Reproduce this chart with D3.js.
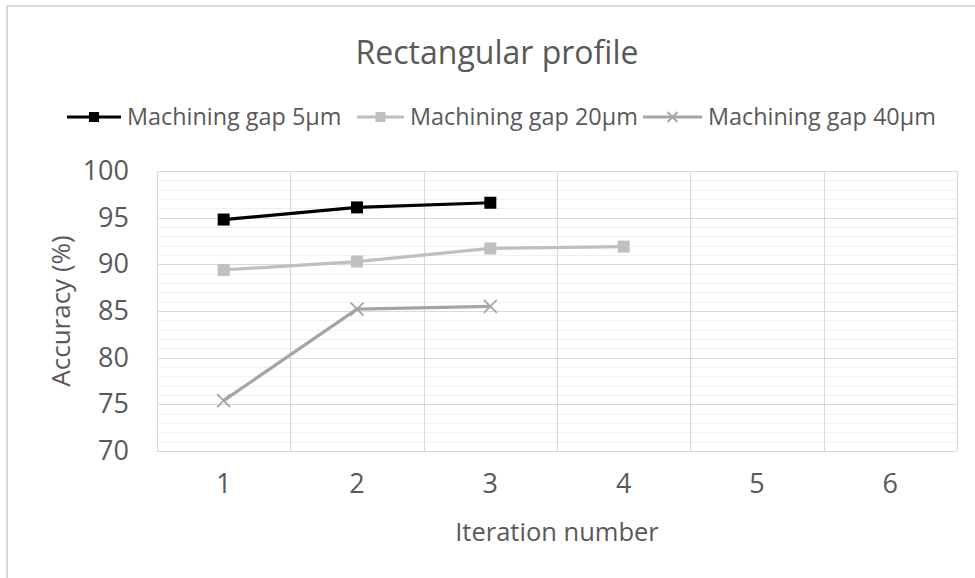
<!DOCTYPE html>
<html>
<head>
<meta charset="utf-8">
<script src="https://cdn.jsdelivr.net/npm/d3@7"></script>
<style>
  html, body { margin: 0; padding: 0; background: #fff; }
  svg { display: block; }
  text { font-family: "Open Sans", sans-serif; fill: #595959; }
</style>
</head>
<body>
<svg id="chart" width="975" height="578"></svg>
<script>
// ---- data ----
const iterations = [1, 2, 3, 4, 5, 6];
const seriesNames = ["Machining gap 5\u00b5m", "Machining gap 20\u00b5m", "Machining gap 40\u00b5m"];
const gap5 = [94.8, 96.1, 96.6];
const gap20 = [89.4, 90.3, 91.7, 91.9];
const gap40 = [75.4, 85.2, 85.5];
const yTicks = [70, 75, 80, 85, 90, 95, 100];
const chartTitle = "Rectangular profile";
const xTitle = "Iteration number";
const yTitle = "Accuracy (%)";

// ---- layout ----
const plot = { left: 157, right: 957, top: 171, bottom: 451 };
const svg = d3.select("#chart");

// outer border
svg.append("rect").attr("x", 7).attr("y", 6).attr("width", 1000).attr("height", 600)
  .attr("fill", "#fff").attr("stroke", "#d9d9d9").attr("stroke-width", 2);

const x = d3.scaleBand().domain(iterations).range([plot.left, plot.right]);
const y = d3.scaleLinear().domain([70, 100]).range([plot.bottom, plot.top]);

const g = svg.append("g");

// minor gridlines
const minor = d3.range(70, 101, 1).filter(v => v % 5 !== 0);
g.append("g").selectAll("line").data(minor).join("line")
  .attr("x1", plot.left).attr("x2", plot.right)
  .attr("y1", d => Math.round(y(d)) + 0.5).attr("y2", d => Math.round(y(d)) + 0.5)
  .attr("stroke", "#f0f0f0").attr("stroke-width", 1);

// major gridlines
g.append("g").selectAll("line").data(yTicks).join("line")
  .attr("x1", plot.left).attr("x2", plot.right)
  .attr("y1", d => Math.round(y(d)) + 0.5).attr("y2", d => Math.round(y(d)) + 0.5)
  .attr("stroke", "#d9d9d9").attr("stroke-width", 1);

// vertical gridlines at band boundaries
const bounds = iterations.map(d => x(d)).concat([plot.right]);
g.append("g").selectAll("line").data(bounds).join("line")
  .attr("x1", d => Math.round(d) + 0.5).attr("x2", d => Math.round(d) + 0.5)
  .attr("y1", plot.top).attr("y2", plot.bottom)
  .attr("stroke", "#d9d9d9").attr("stroke-width", 1);

// y axis labels
const yAxis = d3.axisLeft(y).tickValues(yTicks).tickSize(0).tickPadding(28);
const ya = svg.append("g").attr("transform", `translate(${plot.left},0)`).call(yAxis);
ya.select(".domain").remove();
ya.selectAll("text").style("font-size", "27px").attr("fill", "#595959").style("font-family", "Open Sans");

// x axis labels
const xAxis = d3.axisBottom(x).tickSize(0).tickPadding(23);
const xa = svg.append("g").attr("transform", `translate(0,${plot.bottom})`).call(xAxis);
xa.select(".domain").remove();
xa.selectAll("text").style("font-size", "27px").attr("fill", "#595959").style("font-family", "Open Sans");

// series
const cx = i => x(iterations[i]) + x.bandwidth() / 2;
const line = d3.line().x((d, i) => cx(i)).y(d => y(d));
const series = [
  { name: seriesNames[0], values: gap5, color: "#000000", marker: "square", size: 12 },
  { name: seriesNames[1], values: gap20, color: "#bfbfbf", marker: "square", size: 12 },
  { name: seriesNames[2], values: gap40, color: "#a5a5a5", marker: "x", size: 13 }
];

function drawMarker(sel, s, px, py) {
  if (s.marker === "square") {
    sel.append("rect").attr("x", px - s.size / 2).attr("y", py - s.size / 2)
      .attr("width", s.size).attr("height", s.size).attr("fill", s.color);
  } else {
    const h = s.size / 2;
    sel.append("path").attr("d", `M${px - h},${py - h}L${px + h},${py + h}M${px - h},${py + h}L${px + h},${py - h}`)
      .attr("stroke", s.color).attr("stroke-width", 1.8).attr("fill", "none");
  }
}

[2, 1, 0].forEach(k => {
  const s = series[k];
  const sg = svg.append("g");
  sg.append("path").datum(s.values).attr("d", line)
    .attr("fill", "none").attr("stroke", s.color).attr("stroke-width", 3.2).attr("stroke-linejoin", "round");
  s.values.forEach((v, i) => drawMarker(sg, s, cx(i), y(v)));
});

// title
svg.append("text").attr("x", 497).attr("y", 64).attr("text-anchor", "middle")
  .style("font-size", "32px").text(chartTitle);

// axis titles
svg.append("text").attr("x", 557).attr("y", 541).attr("text-anchor", "middle")
  .style("font-size", "25.5px").text(xTitle);
svg.append("text").attr("transform", "translate(70,311) rotate(-90)").attr("text-anchor", "middle")
  .style("font-size", "26px").text(yTitle);

// legend
const legendItems = [
  { lx: 67, tx: 127 },
  { lx: 357, tx: 410 },
  { lx: 643, tx: 708 }
];
const ly = 117;
series.forEach((s, k) => {
  const it = legendItems[k];
  const lg = svg.append("g");
  lg.append("line").attr("x1", it.lx).attr("x2", it.tx - 6).attr("y1", ly).attr("y2", ly)
    .attr("stroke", s.color).attr("stroke-width", 3.2);
  drawMarker(lg, { ...s, size: 10 }, (it.lx + it.tx - 6) / 2, ly);
  lg.append("text").attr("x", it.tx).attr("y", ly).attr("dy", "0.35em")
    .style("font-size", "23.4px").text(s.name);
});
</script>
</body>
</html>
